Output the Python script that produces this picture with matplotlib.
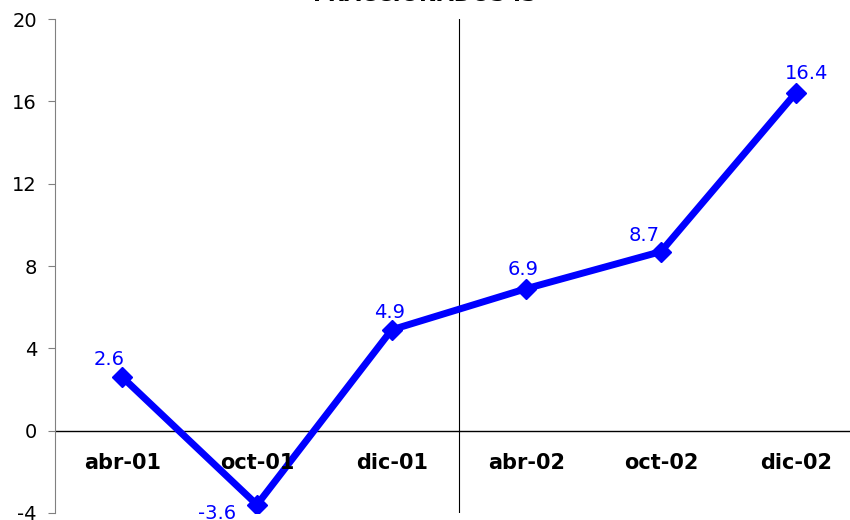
import matplotlib.pyplot as plt
from matplotlib.ticker import FuncFormatter

plt.rcParams['font.family'] = ['DejaVu Sans']

categories = ['abr-01', 'oct-01', 'dic-01', 'abr-02', 'oct-02', 'dic-02']
values = [2.6, -3.6, 4.9, 6.9, 8.7, 16.4]
title = 'FRACCIONADOS IS'

fig = plt.figure(figsize=(8.5, 5.2), dpi=100)
ax = fig.add_axes([55 / 850, 7 / 520, 808 / 850, 494 / 520])

x = list(range(len(categories)))
ax.plot(x, values, color='#0000FF', linewidth=5, marker='D', markersize=10,
        solid_joinstyle='miter', zorder=3)

# label offsets in points (Excel-like placement), baseline aligned
offsets = [(-9.4, 9), (-29, -10.5), (-1.4, 8.5), (-2.2, 10), (-12.2, 7.5), (8, 10)]
for xi, v, off in zip(x, values, offsets):
    ax.annotate(f'{v:.1f}', (xi, v), xytext=off, textcoords='offset points',
                ha='center', va='baseline', color='#0000FF', fontsize=14)

for xi, c in zip(x, categories):
    ax.text(xi, -1.55, c, ha='center', va='center', fontsize=15, fontweight='bold')

ax.set_xlim(-0.5, 5.5)
ax.set_ylim(-4, 20)
ax.set_yticks(range(-4, 21, 4))
ax.yaxis.set_major_formatter(FuncFormatter(lambda v, p: f'{v:.0f}'))
ax.tick_params(axis='y', labelsize=14, direction='out', length=5, pad=8, color='#808080')
ax.set_xticks([])

for s in ['top', 'right', 'bottom']:
    ax.spines[s].set_visible(False)
ax.spines['left'].set_color('#808080')
ax.axhline(0, color='black', linewidth=1, zorder=1)
ax.axvline(2.5, color='black', linewidth=0.8, zorder=1)

fig.text(0.5, 1 - 5 / 520, title, ha='center', va='bottom', fontsize=15.5, fontweight='bold')

fig.savefig('out.png', dpi=100)
